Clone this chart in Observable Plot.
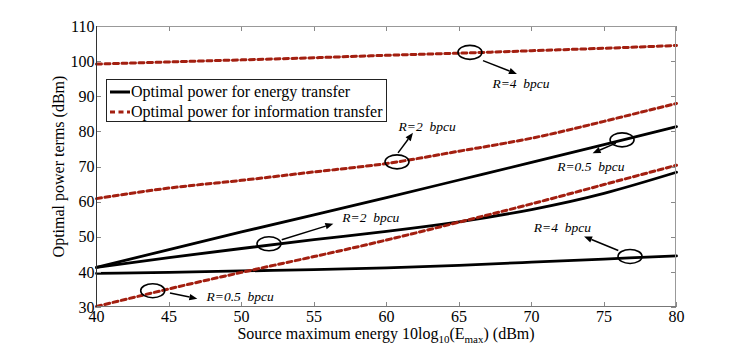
<!DOCTYPE html>
<html><head><meta charset="utf-8">
<script src="https://cdn.jsdelivr.net/npm/d3@7"></script>
<script src="https://cdn.jsdelivr.net/npm/@observablehq/plot@0.6"></script>
<style>body{margin:0;background:#fff;} #chart svg{display:block;}</style>
</head><body><div id="chart"></div>
<script>
// ---- data ----
const xValues = [40, 45, 50, 55, 60, 65, 70, 75, 80];
const energyR05 = [41.4, 46.5, 51.5, 56.4, 61.3, 66.3, 71.3, 76.4, 81.5];
const energyR2  = [41.4, 44.2, 46.8, 49.3, 51.7, 54.4, 57.9, 62.5, 68.5];
const energyR4  = [39.7, 40.0, 40.4, 40.8, 41.3, 42.0, 42.9, 43.8, 44.7];
const infoR05   = [30.3, 35.3, 40.0, 44.5, 49.2, 54.3, 59.5, 65.0, 70.5];
const infoR2    = [61.0, 64.0, 66.2, 68.6, 71.0, 74.5, 78.2, 83.0, 88.1];
const infoR4    = [99.3, 99.9, 100.5, 101.1, 101.8, 102.4, 103.1, 103.8, 104.6];
const rateLabels = ["R=0.5", "R=2", "R=4"];
const xTicks = [40, 45, 50, 55, 60, 65, 70, 75, 80];
const yTicks = [30, 40, 50, 60, 70, 80, 90, 100, 110];
const legendLabels = ["Optimal power for energy transfer", "Optimal power for information transfer"];
const yLabel = "Optimal power terms (dBm)";
// annotations: ellipse centre, arrow start/end, text anchor (data units)
const annLabels = ["R=4  bpcu", "R=2  bpcu", "R=0.5  bpcu", "R=2  bpcu", "R=4  bpcu", "R=0.5  bpcu"];
const ellipseX = [65.79, 60.76, 76.28, 51.93, 76.83, 43.91];
const ellipseY = [102.5, 71.33, 77.59, 48.0, 44.39, 34.64];
const arrowX1 = [66.69, 60.83, 75.86, 52.81, 76.02, 45.10];
const arrowY1 = [100.14, 73.89, 76.64, 49.14, 46.10, 33.98];
const arrowX2 = [69.03, 61.86, 74.25, 56.37, 73.66, 46.99];
const arrowY2 = [96.35, 79.58, 73.80, 53.69, 50.08, 32.36];
const textX = [67.31, 60.83, 71.77, 56.95, 70.16, 47.59];
const textY = [93.79, 81.57, 69.99, 55.48, 52.75, 33.21];

// ---- tables built from the arrays ----
const toRows = (arrs) => arrs.flatMap((vals, k) => xValues.map((x, i) => ({x, y: vals[i], r: rateLabels[k]})));
const energyRows = toRows([energyR05, energyR2, energyR4]);
const infoRows = toRows([infoR05, infoR2, infoR4]);
const ann = annLabels.map((label, i) => ({label, ex: ellipseX[i], ey: ellipseY[i],
  x1: arrowX1[i], y1: arrowY1[i], x2: arrowX2[i], y2: arrowY2[i], tx: textX[i], ty: textY[i]}));

const RED = "#a31f10";
const FONT = "'Liberation Serif', 'Times New Roman', serif";

function frameAndTicks(index, scales, values, dims) {
  const g = d3.create("svg:g");
  const L = dims.marginLeft, R = dims.width - dims.marginRight, T = dims.marginTop, B = dims.height - dims.marginBottom;
  const tl = 5;
  for (const t of xTicks) {
    const px = Math.round(scales.x(t)) + 0.5;
    g.append("line").attr("x1", px).attr("x2", px).attr("y1", B).attr("y2", B - tl).attr("stroke", "#888");
    g.append("line").attr("x1", px).attr("x2", px).attr("y1", T).attr("y2", T + tl).attr("stroke", "#888");
  }
  for (const t of yTicks) {
    const py = Math.round(scales.y(t)) + 0.5;
    g.append("line").attr("x1", L).attr("x2", L + tl).attr("y1", py).attr("y2", py).attr("stroke", "#888");
    g.append("line").attr("x1", R).attr("x2", R - tl).attr("y1", py).attr("y2", py).attr("stroke", "#888");
  }
  g.append("line").attr("x1", L).attr("x2", R).attr("y1", T + 0.5).attr("y2", T + 0.5).attr("stroke", "#999");
  g.append("line").attr("x1", R - 0.5).attr("x2", R - 0.5).attr("y1", T).attr("y2", B).attr("stroke", "#999");
  g.append("line").attr("x1", L).attr("x2", R).attr("y1", B - 0.5).attr("y2", B - 0.5).attr("stroke", "#777");
  g.append("line").attr("x1", L + 0.5).attr("x2", L + 0.5).attr("y1", T).attr("y2", B).attr("stroke", "#333");
  return g.node();
}

function ellipsesMark(index, scales) {
  const g = d3.create("svg:g").attr("fill", "none").attr("stroke", "black").attr("stroke-width", 1.6);
  for (const a of ann) {
    g.append("ellipse").attr("cx", scales.x(a.ex)).attr("cy", scales.y(a.ey)).attr("rx", 12).attr("ry", 7);
  }
  return g.node();
}

function arrowsMark(index, scales) {
  const g = d3.create("svg:g");
  for (const a of ann) {
    const x1 = scales.x(a.x1), y1 = scales.y(a.y1), x2 = scales.x(a.x2), y2 = scales.y(a.y2);
    const ang = Math.atan2(y2 - y1, x2 - x1), hl = 8, hw = 3.2;
    const bx = x2 - hl * Math.cos(ang), by = y2 - hl * Math.sin(ang);
    g.append("line").attr("x1", x1).attr("y1", y1).attr("x2", bx).attr("y2", by).attr("stroke", "black").attr("stroke-width", 1.5);
    const px = -Math.sin(ang) * hw, py = Math.cos(ang) * hw;
    g.append("path").attr("d", `M${x2},${y2}L${bx + px},${by + py}L${bx - px},${by - py}Z`).attr("fill", "black");
  }
  return g.node();
}

function legendMark(index, scales, values, dims) {
  const g = d3.create("svg:g");
  const x0 = dims.marginLeft + 10, y0 = dims.marginTop + 53;
  g.append("rect").attr("x", x0 + 0.5).attr("y", y0 + 0.5).attr("width", 280).attr("height", 42)
    .attr("fill", "white").attr("stroke", "#222").attr("stroke-width", 1);
  const rows = [{y: y0 + 13, stroke: "black", dash: null}, {y: y0 + 33, stroke: RED, dash: "5,3.5"}];
  rows.forEach((r, i) => {
    const ln = g.append("line").attr("x1", x0 + 4).attr("x2", x0 + 24).attr("y1", r.y).attr("y2", r.y)
      .attr("stroke", r.stroke).attr("stroke-width", 3);
    if (r.dash) ln.attr("stroke-dasharray", r.dash);
    g.append("text").attr("x", x0 + 25).attr("y", r.y).attr("dy", "0.33em").attr("text-anchor", "start")
      .attr("font-family", FONT).attr("font-size", 16).attr("fill", "black").text(legendLabels[i]);
  });
  return g.node();
}

function axisLabels(index, scales, values, dims) {
  const g = d3.create("svg:g").attr("font-family", FONT).attr("fill", "black");
  const cx = (dims.marginLeft + dims.width - dims.marginRight) / 2;
  const t = g.append("text").attr("x", cx).attr("y", dims.height - 8).attr("text-anchor", "middle").attr("font-size", 16);
  t.append("tspan").text("Source maximum energy 10log");
  t.append("tspan").attr("font-size", 11).attr("dy", 4).text("10");
  t.append("tspan").attr("dy", -4).text("(E");
  t.append("tspan").attr("font-size", 11).attr("dy", 4).text("max");
  t.append("tspan").attr("dy", -4).text(") (dBm)");
  const cy = (dims.marginTop + dims.height - dims.marginBottom) / 2;
  g.append("text").attr("transform", `translate(64,${cy}) rotate(-90)`).attr("text-anchor", "middle")
    .attr("font-size", 16).text(yLabel);
  return g.node();
}

const chart = Plot.plot({
  width: 747,
  height: 347,
  marginLeft: 96,
  marginRight: 71,
  marginTop: 26,
  marginBottom: 40,
  style: {fontFamily: FONT, fontSize: "16px", background: "white", color: "black"},
  x: {domain: [40, 80]},
  y: {domain: [30, 110]},
  marks: [
    Plot.line(energyRows, {x: "x", y: "y", z: "r", stroke: "black", strokeWidth: 2.8, curve: "natural"}),
    Plot.line(infoRows, {x: "x", y: "y", z: "r", stroke: RED, strokeWidth: 3, strokeDasharray: "5,3.5", curve: "natural"}),
    frameAndTicks,
    Plot.axisX({ticks: xTicks, tickSize: 0, tickPadding: 3, label: null, tickFormat: d => String(d), fontFamily: FONT}),
    Plot.axisY({ticks: yTicks, tickSize: 0, tickPadding: 2, label: null, tickFormat: d => String(d), fontFamily: FONT}),
    ellipsesMark,
    arrowsMark,
    Plot.text(ann, {x: "tx", y: "ty", text: "label", textAnchor: "start", fontStyle: "italic", fontSize: 13.5, fontFamily: FONT, fill: "black"}),
    legendMark,
    axisLabels
  ]
});
document.getElementById("chart").appendChild(chart);
</script>
</body></html>
